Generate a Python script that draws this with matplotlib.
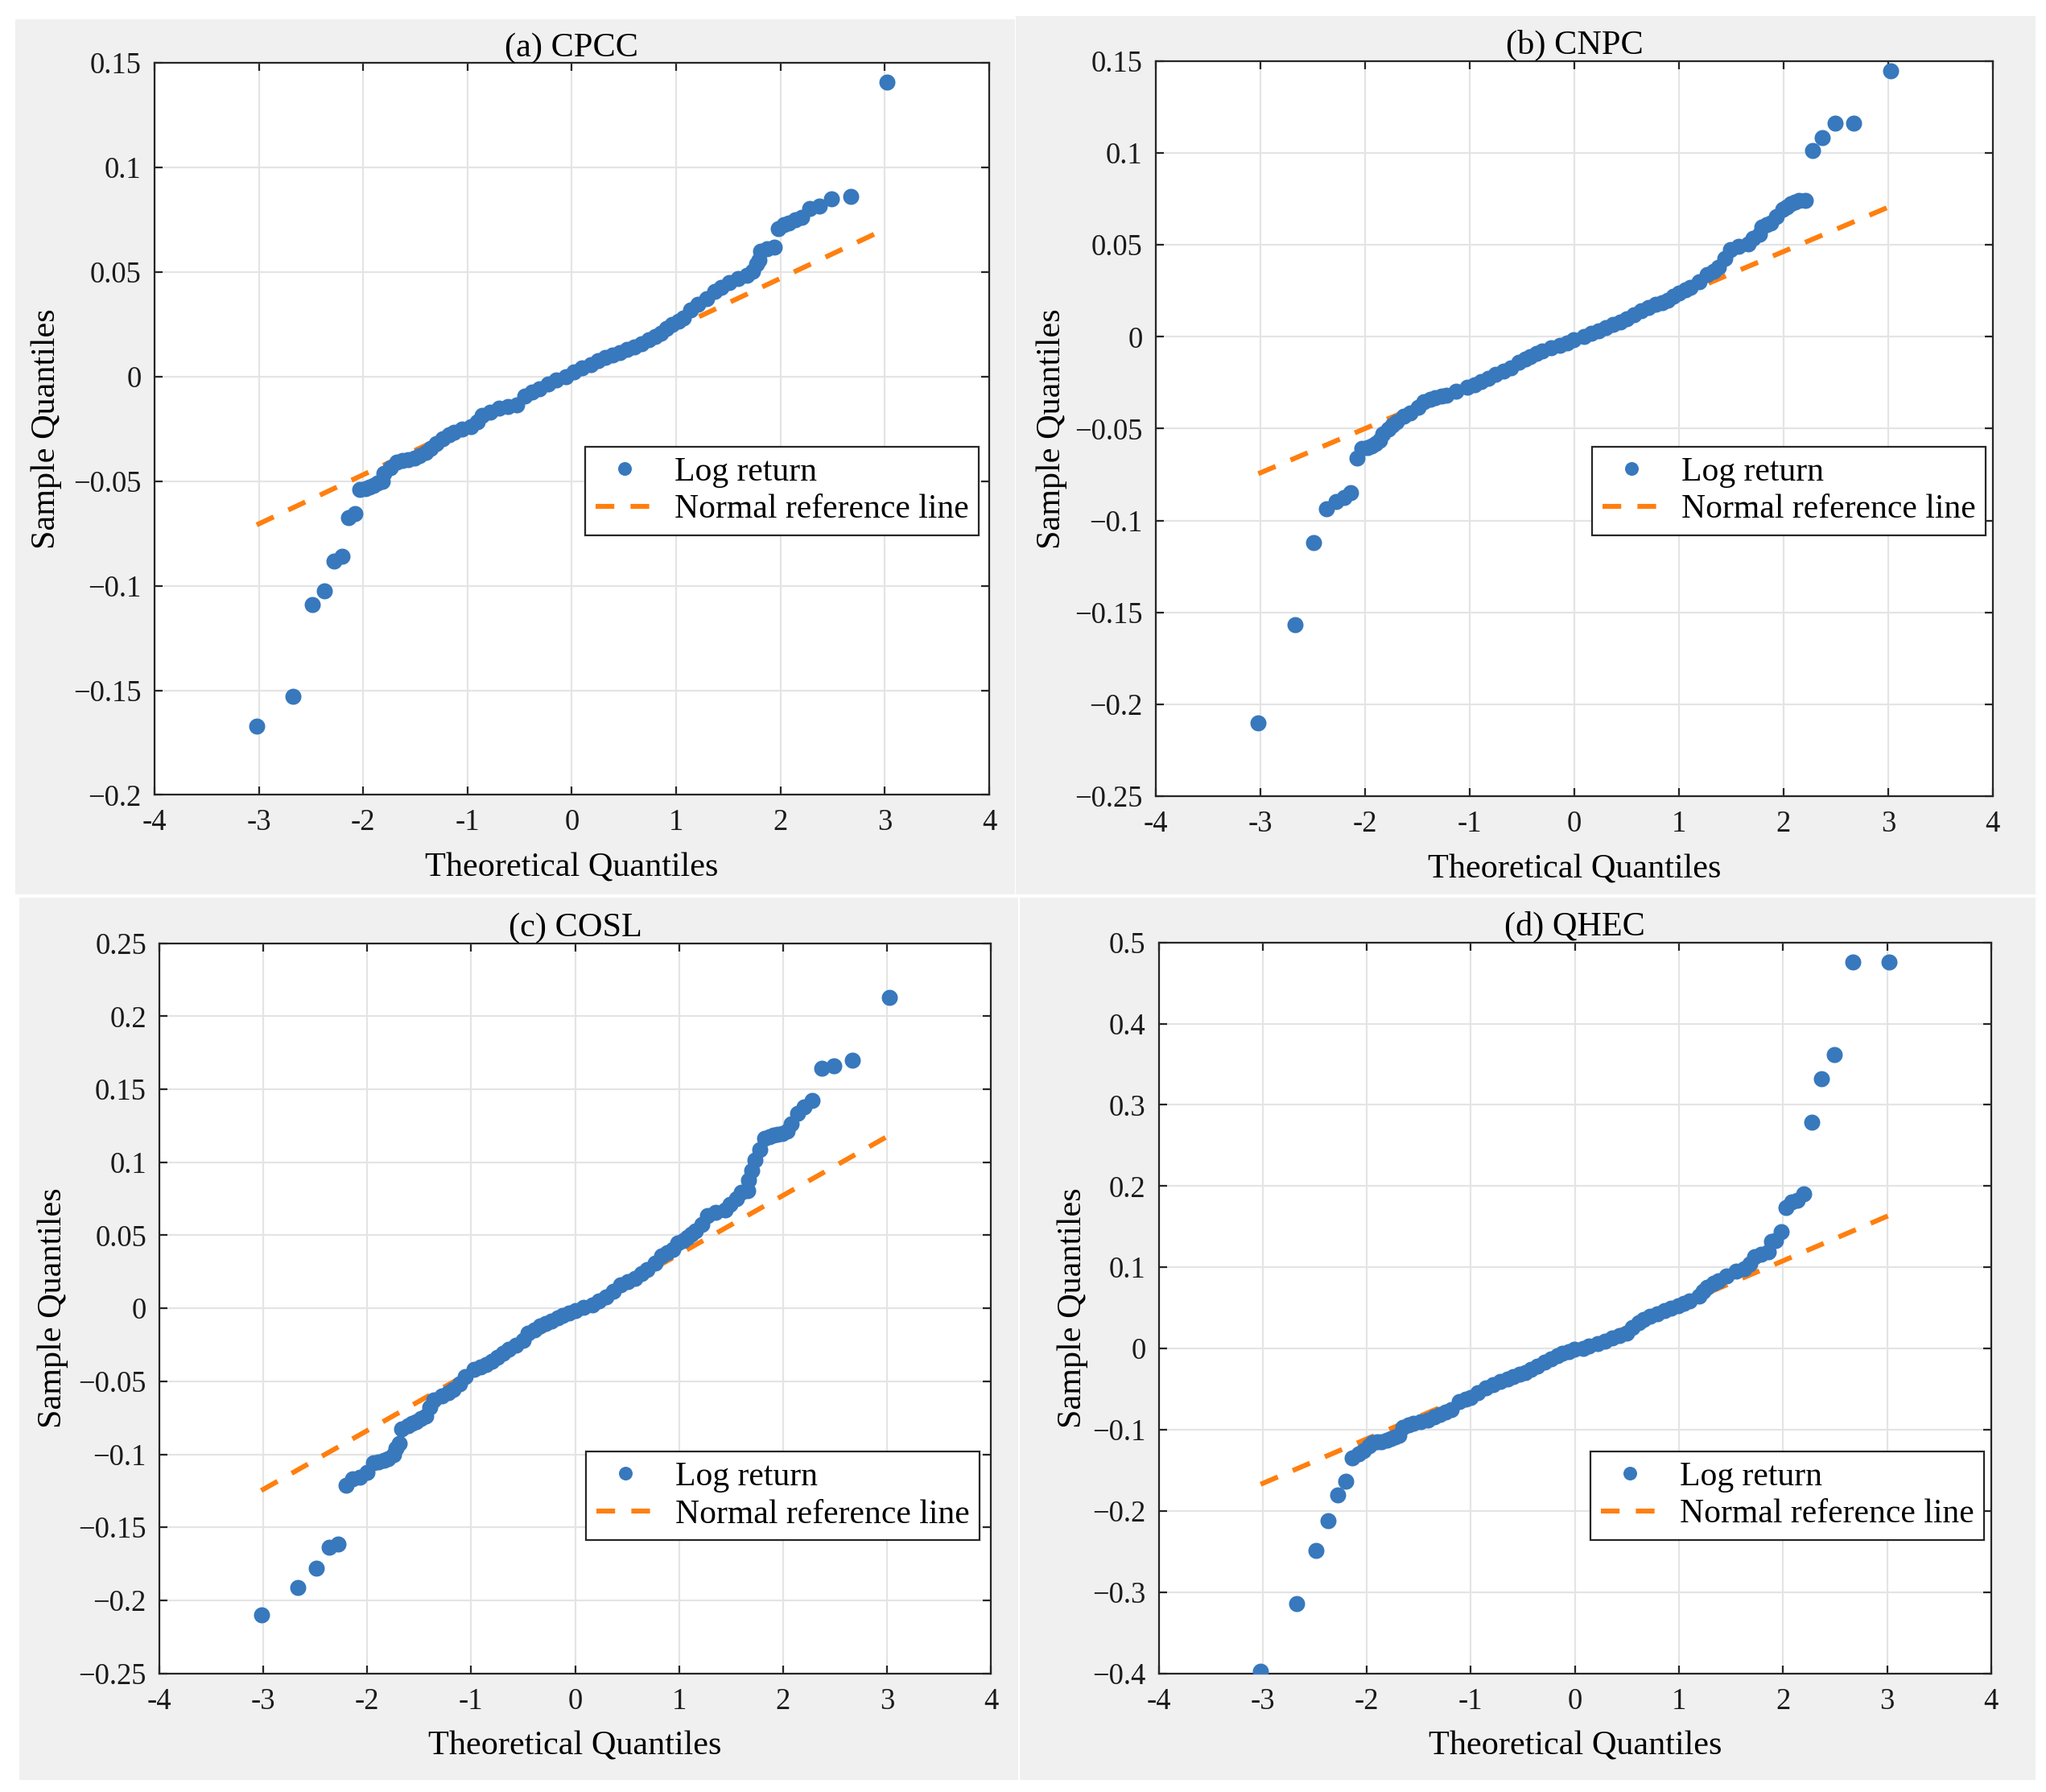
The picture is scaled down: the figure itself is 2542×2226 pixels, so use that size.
import numpy as np
import matplotlib
matplotlib.use("Agg")
import matplotlib.pyplot as plt
from matplotlib.patches import Rectangle

plt.rcParams['font.family'] = ['Liberation Serif', 'DejaVu Serif']

# ---- data (theoretical quantile, sample quantile) ----
cpcc_x = [-3.02, -2.67, -2.49, -2.37, -2.28, -2.20, -2.14, -2.08,
          -2.03, -1.98, -1.94, -1.90, -1.86, -1.82, -1.80, -1.74, -1.68, -1.62,
          -1.57, -1.51, -1.46, -1.40, -1.35, -1.30, -1.24, -1.18, -1.13, -1.05,
          -0.97, -0.91, -0.86, -0.78, -0.70, -0.61, -0.53, -0.45, -0.38, -0.31,
          -0.23, -0.15, -0.06, 0.02, 0.10, 0.185, 0.25, 0.32, 0.39, 0.46, 0.53,
          0.60, 0.67, 0.74, 0.80, 0.85, 0.91, 0.96, 1.02, 1.07, 1.14, 1.21, 1.29,
          1.37, 1.43, 1.51, 1.59, 1.68, 1.73, 1.77, 1.79, 1.81, 1.87, 1.94,
          1.98, 2.03, 2.08, 2.14, 2.20, 2.28, 2.37, 2.49, 2.67, 3.02]
cpcc_y = [-0.167, -0.153, -0.109, -0.1026, -0.0884, -0.086, -0.0675, -0.0656,
          -0.054, -0.0537, -0.053, -0.052, -0.051, -0.050, -0.0463, -0.0436, -0.041, -0.0403,
          -0.0398, -0.039, -0.038, -0.0362, -0.0342, -0.032, -0.0296, -0.028, -0.0265, -0.0252,
          -0.0239, -0.0215, -0.0187, -0.017, -0.0153, -0.0143, -0.0135, -0.0093, -0.0075, -0.0058,
          -0.0036, -0.0015, 0.0, 0.0023, 0.004, 0.0058, 0.0075, 0.0092, 0.0104, 0.0115, 0.0128,
          0.014, 0.0157, 0.0174, 0.0192, 0.0208, 0.023, 0.025, 0.0265, 0.028, 0.0318, 0.0345, 0.0373,
          0.0407, 0.0425, 0.0448, 0.0468, 0.0482, 0.0503, 0.0537, 0.0558, 0.0599, 0.0612, 0.062,
          0.0708, 0.0725, 0.0735, 0.0748, 0.0759, 0.0804, 0.0814, 0.0849, 0.0859, 0.1407]
cpcc_ref_x = [-3.02, 3.02]
cpcc_ref_y = [-0.0709, 0.0709]

cnpc_x = [-3.02, -2.67, -2.49, -2.37, -2.28, -2.20, -2.14, -2.08,
          -2.03, -1.98, -1.94, -1.90, -1.86, -1.83, -1.78, -1.74, -1.70, -1.63,
          -1.57, -1.49, -1.44, -1.38, -1.33, -1.27, -1.22, -1.13, -1.02, -0.95,
          -0.89, -0.82, -0.75, -0.68, -0.61, -0.53, -0.47, -0.42, -0.36, -0.31,
          -0.22, -0.14, -0.07, -0.006, 0.09, 0.16, 0.23, 0.30, 0.37, 0.44, 0.50,
          0.57, 0.64, 0.71, 0.78, 0.84, 0.89, 0.95, 1.00, 1.06, 1.11, 1.19, 1.27,
          1.33, 1.38, 1.44, 1.49, 1.57, 1.66, 1.71, 1.77, 1.79, 1.84, 1.88, 1.93,
          1.99, 2.03, 2.07, 2.11, 2.15, 2.21,
          2.28, 2.37, 2.49, 2.67, 3.02]
cnpc_y = [-0.2099, -0.1567, -0.1118, -0.0935, -0.0896, -0.0876, -0.085, -0.0662,
          -0.0606, -0.0603, -0.0595, -0.058, -0.0565, -0.053, -0.0503, -0.048, -0.0462, -0.0434,
          -0.0414, -0.0384, -0.0355, -0.034, -0.0331, -0.0325, -0.0319, -0.0295, -0.0275, -0.0262,
          -0.0246, -0.0226, -0.0206, -0.0188, -0.017, -0.0137, -0.0122, -0.0107, -0.0092, -0.0077,
          -0.0062, -0.0048, -0.0033, -0.0018, 0.0003, 0.0019, 0.0034, 0.005, 0.0066, 0.0082, 0.0097,
          0.0118, 0.014, 0.0158, 0.0175, 0.0186, 0.0198, 0.0218, 0.0238, 0.0254, 0.0269, 0.030, 0.0339,
          0.0358, 0.0378, 0.0425, 0.0472, 0.0491, 0.0503, 0.0534, 0.0558, 0.0597, 0.0608, 0.062, 0.0652,
          0.0691, 0.0708, 0.0722, 0.0732, 0.0742, 0.0742,
          0.1011, 0.1084, 0.1163, 0.1163, 0.1444]
cnpc_ref_x = [-3.02, 3.02]
cnpc_ref_y = [-0.0745, 0.0709]

cosl_x = [-3.02, -2.67, -2.49, -2.37, -2.28, -2.20,
          -2.14, -2.07, -2.00, -1.94, -1.89, -1.84, -1.80, -1.75, -1.72, -1.69, -1.67,
          -1.61, -1.57, -1.53, -1.48, -1.44, -1.40, -1.36, -1.28, -1.22, -1.17, -1.11,
          -1.06, -0.97, -0.91, -0.86, -0.80, -0.75, -0.69, -0.64, -0.57, -0.50, -0.45,
          -0.39, -0.34, -0.28, -0.23, -0.17, -0.12, -0.06, 0.00, 0.08, 0.166, 0.23,
          0.30, 0.37, 0.44, 0.51, 0.58, 0.64, 0.69, 0.77, 0.83, 0.89, 0.94, 0.99, 1.04,
          1.08, 1.12, 1.16, 1.22, 1.27, 1.35, 1.44, 1.49, 1.55, 1.60, 1.66, 1.67, 1.70,
          1.73, 1.78, 1.82, 1.87, 1.91, 1.95, 1.99, 2.04, 2.08, 2.14, 2.20, 2.28,
          2.37, 2.49, 2.67, 3.02]
cosl_y = [-0.210, -0.1914, -0.1781, -0.1636, -0.1617, -0.121,
          -0.1169, -0.1156, -0.1124, -0.1058, -0.105, -0.1042, -0.1033, -0.1004, -0.096, -0.0923, -0.0824,
          -0.0805, -0.079, -0.0775, -0.0757, -0.0738, -0.0677, -0.0627, -0.0598, -0.0576, -0.0554, -0.0517,
          -0.0468, -0.0418, -0.0402, -0.0386, -0.0362, -0.0337, -0.031, -0.0283, -0.0252, -0.0221, -0.0172,
          -0.0147, -0.0123, -0.0105, -0.0086, -0.0067, -0.0049, -0.003, -0.0015, 0.0005, 0.0023, 0.005,
          0.0076, 0.0118, 0.016, 0.018, 0.0203, 0.0235, 0.0266, 0.0308, 0.036, 0.0382, 0.0403, 0.0445, 0.0466,
          0.0487, 0.0508, 0.053, 0.0572, 0.0635, 0.0656, 0.0671, 0.0709, 0.0751, 0.0797, 0.0804, 0.0878, 0.0945,
          0.1015, 0.1089, 0.1162, 0.1175, 0.1184, 0.1189, 0.1194, 0.1215, 0.1262, 0.1335, 0.138, 0.1422,
          0.1641, 0.1662, 0.1696, 0.2129]
cosl_ref_x = [-3.02, 3.02]
cosl_ref_y = [-0.1248, 0.1183]

qhec_x = [-3.02, -2.67, -2.49, -2.37, -2.28, -2.20, -2.14,
          -2.08, -2.03, -1.98, -1.95, -1.90, -1.86, -1.81, -1.77, -1.73, -1.69, -1.65,
          -1.60, -1.55, -1.48, -1.41, -1.35, -1.30, -1.24, -1.19, -1.11, -1.05, -1.00,
          -0.93, -0.86, -0.79, -0.72, -0.65, -0.59, -0.53, -0.48, -0.42, -0.36, -0.29,
          -0.23, -0.17, -0.12, -0.06, -0.005, 0.08, 0.13, 0.22, 0.29, 0.36, 0.43, 0.50,
          0.55, 0.61, 0.66, 0.72, 0.79, 0.86, 0.92, 0.99, 1.05, 1.10, 1.19, 1.23, 1.27,
          1.33, 1.38, 1.46, 1.55, 1.63, 1.68, 1.73, 1.79, 1.86, 1.89, 1.93, 1.98,
          2.03, 2.08, 2.14, 2.20, 2.28, 2.37, 2.49, 2.67, 3.02]
qhec_y = [-0.397, -0.3146, -0.249, -0.212, -0.1804, -0.163, -0.1346,
          -0.130, -0.126, -0.120, -0.1156, -0.1152, -0.1149, -0.113, -0.111, -0.109, -0.107, -0.0967,
          -0.0945, -0.0921, -0.0902, -0.0883, -0.0845, -0.0807, -0.078, -0.075, -0.0656, -0.0628, -0.0599,
          -0.0542, -0.0485, -0.0447, -0.0409, -0.0377, -0.0345, -0.032, -0.0296, -0.0258, -0.022, -0.0172,
          -0.0125, -0.009, -0.0057, -0.0034, -0.0011, 0.0, 0.0027, 0.0057, 0.0095, 0.0133, 0.016, 0.019,
          0.0255, 0.0323, 0.036, 0.0398, 0.0432, 0.0467, 0.050, 0.0531, 0.056, 0.0588, 0.0645, 0.070, 0.0759,
          0.080, 0.0835, 0.0892, 0.0949, 0.0987, 0.1044, 0.1127, 0.1157, 0.1195, 0.1317, 0.1328, 0.1442,
          0.1734, 0.1803, 0.1822, 0.1905, 0.2782, 0.3321, 0.3617, 0.4763, 0.4763]
qhec_ref_x = [-3.02, 3.02]
qhec_ref_y = [-0.1672, 0.1639]

titles = ['(a) CPCC', '(b) CNPC', '(c) COSL', '(d) QHEC']
y_limits = [(-0.2, 0.15), (-0.25, 0.15), (-0.25, 0.25), (-0.4, 0.5)]
y_steps = [0.05, 0.05, 0.05, 0.1]

BLUE = '#3878bd'
ORANGE = '#ff7f0e'
DARK = '#262626'
GRAY_BG = '#f0f0f0'


def y_label_text(v):
    if abs(v) < 1e-9:
        return '0'
    return f"{v:g}".replace('-', '\u2212')


def draw_panel(ax, qx, qy, rx, ry, title, ylim, ystep, ylab_x, leg_anchor):
    ax.grid(True, color='#e4e4e4', lw=0.8)
    ax.set_axisbelow(True)
    ax.plot(rx, ry, color=ORANGE, lw=2.2, ls=(0, (3.8, 3.3)), zorder=2,
            label='Normal reference line')
    ax.plot(qx, qy, 'o', ms=7.2, mfc=BLUE, mec='none', zorder=3, label='Log return')

    ax.set_xlim(-4, 4)
    ax.set_ylim(*ylim)
    xt = list(range(-4, 5))
    ax.set_xticks(xt)
    ax.set_xticklabels([str(v) for v in xt])
    yt = np.round(np.arange(ylim[0], ylim[1] + ystep / 2, ystep), 4)
    ax.set_yticks(yt)
    ax.set_yticklabels([y_label_text(v) for v in yt])

    ax.tick_params(direction='in', length=3.6, width=0.8, top=True, right=True,
                   labelsize=13.2, color=DARK, labelcolor='#1a1a1a')
    ax.tick_params(axis='x', pad=6.3)
    ax.tick_params(axis='y', pad=5.8)
    for sp in ax.spines.values():
        sp.set_color(DARK)
        sp.set_linewidth(0.8)

    ax.set_title(title, fontsize=15.2, pad=3)
    ax.set_xlabel('Theoretical Quantiles', fontsize=15.2)
    ax.xaxis.set_label_coords(0.5, -0.079)
    ax.set_ylabel('Sample Quantiles', fontsize=15.2)
    ax.yaxis.set_label_coords(ylab_x, 0.5)

    handles, labels = ax.get_legend_handles_labels()
    leg = ax.legend(handles[::-1], labels[::-1], loc='lower right', bbox_to_anchor=leg_anchor,
                    borderaxespad=0, fancybox=False, framealpha=1, edgecolor=DARK,
                    fontsize=15, numpoints=1, handlelength=1.75, handletextpad=0.6,
                    borderpad=0.3, labelspacing=0.2, markerscale=0.85)
    leg.get_frame().set_linewidth(0.8)


fig = plt.figure(figsize=(12.71, 11.13), dpi=200, facecolor='white')

# grey figure backgrounds of the four pasted panels
for x0, y0, w, h in [(0.0075, 0.5009, 0.4886, 0.4883),
                     (0.4965, 0.5009, 0.4984, 0.4901),
                     (0.0094, 0.0067, 0.4882, 0.4924),
                     (0.4984, 0.0067, 0.4965, 0.4924)]:
    fig.add_artist(Rectangle((x0, y0), w, h, transform=fig.transFigure,
                             facecolor=GRAY_BG, edgecolor='none', zorder=-5))

ax_a = fig.add_axes([0.0755, 0.5564, 0.4080, 0.4086])
ax_b = fig.add_axes([0.5649, 0.5556, 0.4091, 0.4104])
ax_c = fig.add_axes([0.0779, 0.0662, 0.4064, 0.4075])
ax_d = fig.add_axes([0.5663, 0.0662, 0.4069, 0.4079])

draw_panel(ax_a, cpcc_x, cpcc_y, cpcc_ref_x, cpcc_ref_y, titles[0], y_limits[0], y_steps[0],
           -0.111, (0.9875, 0.3546))
draw_panel(ax_b, cnpc_x, cnpc_y, cnpc_ref_x, cnpc_ref_y, titles[1], y_limits[1], y_steps[1],
           -0.106, (0.9913, 0.355))
draw_panel(ax_c, cosl_x, cosl_y, cosl_ref_x, cosl_ref_y, titles[2], y_limits[2], y_steps[2],
           -0.109, (0.9865, 0.1826))
draw_panel(ax_d, qhec_x, qhec_y, qhec_ref_x, qhec_ref_y, titles[3], y_limits[3], y_steps[3],
           -0.085, (0.9913, 0.1826))

fig.savefig('out.png', dpi=200, facecolor='white')
